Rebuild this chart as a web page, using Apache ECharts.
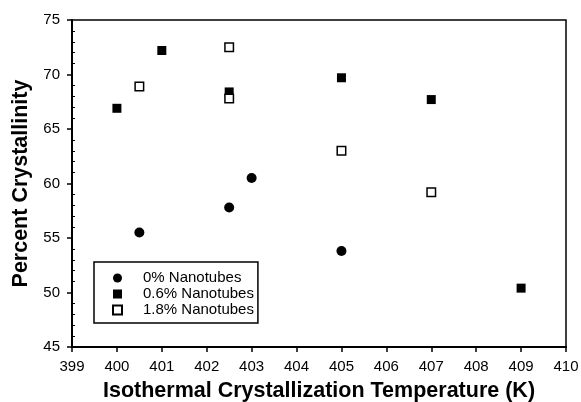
<!DOCTYPE html>
<html>
<head>
<meta charset="utf-8">
<script src="https://cdn.jsdelivr.net/npm/echarts@6/dist/echarts.min.js"></script>
<style>html,body{margin:0;padding:0;background:#fff}#c{width:581px;height:402px}</style>
</head>
<body>
<div id="c"></div>
<script>
var seriesNames = ['0% Nanotubes', '0.6% Nanotubes', '1.8% Nanotubes'];
var temp0 = [400.5, 402.5, 403, 405];
var cryst0 = [55.5, 57.8, 60.5, 53.8];
var temp06 = [400, 401, 402.5, 405, 407, 409];
var cryst06 = [66.9, 72.2, 68.4, 69.7, 67.7, 50.4];
var temp18 = [400.5, 402.5, 402.5, 405, 407];
var cryst18 = [68.9, 72.5, 67.8, 63.0, 59.2];
var xTitle = 'Isothermal Crystallization Temperature (K)';
var yTitle = 'Percent Crystallinity';

function pairs(xs, ys) { return xs.map(function (x, i) { return [x, ys[i]]; }); }
var font = "'Liberation Sans', Arial, sans-serif";
var chart = echarts.init(document.getElementById('c'), null, {renderer: 'canvas'});
chart.setOption({
  animation: false,
  backgroundColor: '#fff',
  grid: {left: 72, right: 15, top: 20, bottom: 55, show: true, borderColor: '#000', borderWidth: 1.5,
         backgroundColor: 'transparent', containLabel: false, outerBoundsMode: 'none'},
  legend: {
    orient: 'vertical', left: 94, top: 262,
    padding: [8, 4, 5, 18],
    itemGap: 0, itemWidth: 9, itemHeight: 9,
    borderColor: '#000', borderWidth: 1.5, backgroundColor: '#fff',
    textStyle: {fontFamily: font, fontSize: 15, color: '#000', lineHeight: 16, padding: [0, 0, 0, 16]},
    data: [
      {name: seriesNames[0], icon: 'circle'},
      {name: seriesNames[1], icon: 'rect'},
      {name: seriesNames[2], icon: 'rect'}
    ]
  },
  xAxis: {
    type: 'value', min: 399, max: 410, interval: 1,
    name: xTitle, nameLocation: 'middle', nameGap: 33,
    nameTextStyle: {fontFamily: font, fontSize: 21.5, fontWeight: 'bold', color: '#000'},
    axisLine: {show: true, onZero: false, lineStyle: {color: '#000', width: 2}},
    axisTick: {show: true, length: 5, lineStyle: {color: '#000', width: 1.5}},
    axisLabel: {fontFamily: font, fontSize: 15, color: '#000', margin: 12},
    splitLine: {show: false}
  },
  yAxis: {
    type: 'value', min: 45, max: 75, interval: 5,
    name: yTitle, nameLocation: 'middle', nameGap: 40,
    nameTextStyle: {fontFamily: font, fontSize: 21.5, fontWeight: 'bold', color: '#000'},
    axisLine: {show: true, onZero: false, lineStyle: {color: '#000', width: 2}},
    axisTick: {show: true, length: 5, lineStyle: {color: '#000', width: 1.5}},
    minorTick: {show: true, splitNumber: 5, length: -3, lineStyle: {color: '#000', width: 1}},
    axisLabel: {fontFamily: font, fontSize: 15, color: '#000', margin: 12},
    splitLine: {show: false}
  },
  series: [
    {name: seriesNames[0], type: 'scatter', symbol: 'circle', symbolSize: 10,
     itemStyle: {color: '#000', opacity: 1}, data: pairs(temp0, cryst0)},
    {name: seriesNames[1], type: 'scatter', symbol: 'rect', symbolSize: 9,
     itemStyle: {color: '#000', opacity: 1}, data: pairs(temp06, cryst06)},
    {name: seriesNames[2], type: 'scatter', symbol: 'rect', symbolSize: 8.5,
     itemStyle: {color: '#fff', borderColor: '#000', borderWidth: 1.5, opacity: 1}, data: pairs(temp18, cryst18)}
  ]
});
</script>
</body>
</html>
